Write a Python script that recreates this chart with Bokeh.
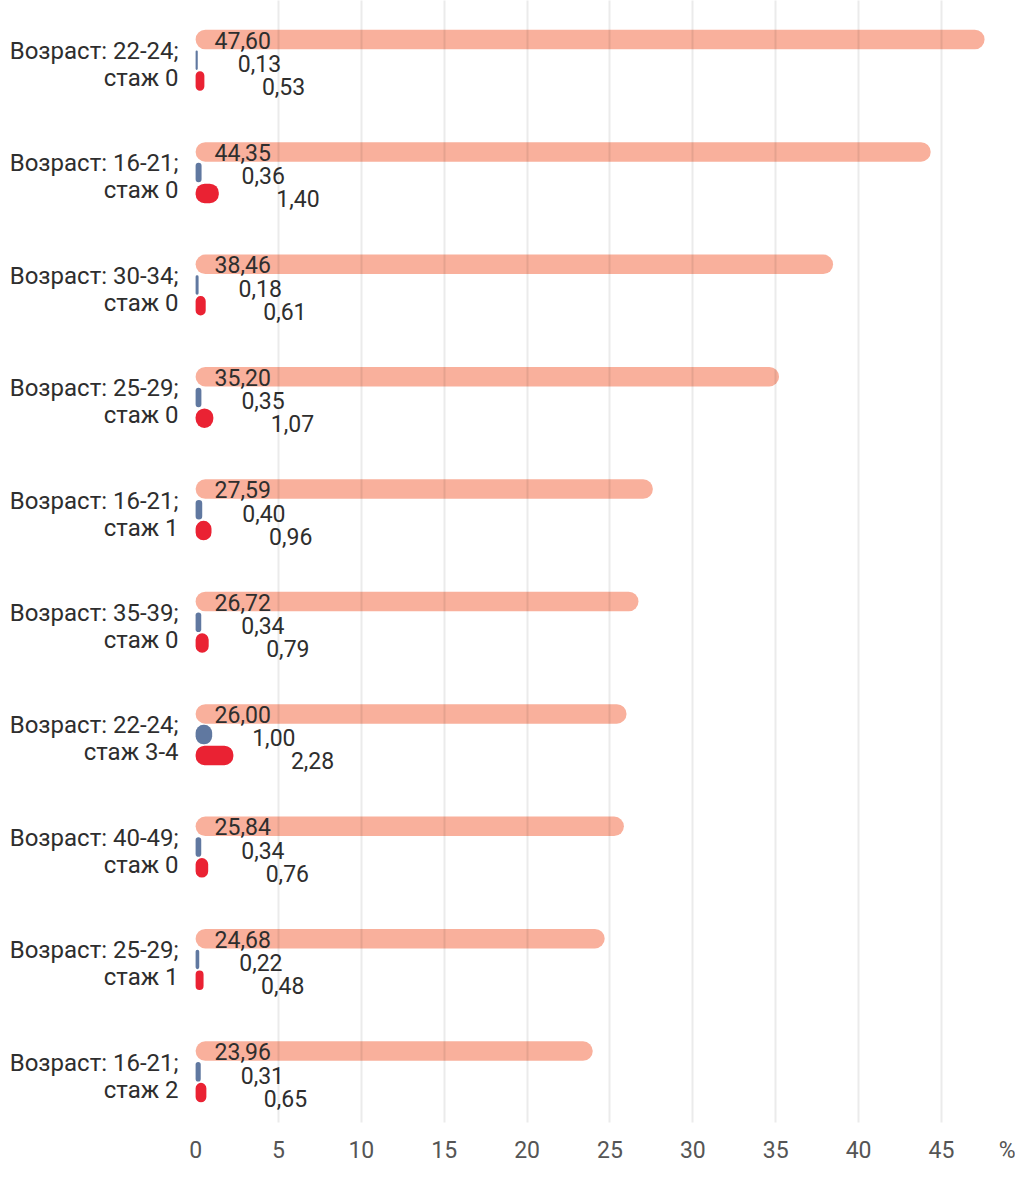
from bokeh.plotting import figure
from bokeh.models import ColumnDataSource, Range1d, FixedTicker
from bokeh.transform import dodge
from bokeh.core.properties import value
from bokeh.embed import file_html
from bokeh.resources import INLINE

# ---- data (top to bottom) ----
age_line = ["Возраст: 22-24;", "Возраст: 16-21;", "Возраст: 30-34;", "Возраст: 25-29;",
            "Возраст: 16-21;", "Возраст: 35-39;", "Возраст: 22-24;", "Возраст: 40-49;",
            "Возраст: 25-29;", "Возраст: 16-21;"]
exp_line = ["стаж 0", "стаж 0", "стаж 0", "стаж 0", "стаж 1", "стаж 0", "стаж 3-4",
            "стаж 0", "стаж 1", "стаж 2"]
series_orange = [47.60, 44.35, 38.46, 35.20, 27.59, 26.72, 26.00, 25.84, 24.68, 23.96]
series_blue = [0.13, 0.36, 0.18, 0.35, 0.40, 0.34, 1.00, 0.34, 0.22, 0.31]
series_red = [0.53, 1.40, 0.61, 1.07, 0.96, 0.79, 2.28, 0.76, 0.48, 0.65]
x_ticks = [0, 5, 10, 15, 20, 25, 30, 35, 40, 45]
grid_ticks = [5, 10, 15, 20, 25, 30, 35, 40, 45]
unit_label = "%"

def fmt(v):
    return f"{v:.2f}".replace(".", ",")

# ---- layout constants ----
W, H = 1015, 1166
BOTTOM = 44
GROUP_PX = 112.4          # pixels per category group
TOP_PX = 39.0             # frame top to first orange bar centre
FRAME_H = H - BOTTOM
X0_PX = 195.1             # canvas x of value 0
PX_PER_UNIT = 16.575

y_top = -TOP_PX / GROUP_PX
y_bot = y_top + FRAME_H / GROUP_PX
x_start = -X0_PX / PX_PER_UNIT
x_end = x_start + W / PX_PER_UNIT

def u(px):
    return px / GROUP_PX

src = ColumnDataSource(dict(
    g=list(range(len(series_orange))),
    age=age_line, exp=exp_line,
    orange=series_orange, blue=series_blue, red=series_red,
    lo=[fmt(v) for v in series_orange],
    lb=[fmt(v) for v in series_blue],
    lr=[fmt(v) for v in series_red],
    zero=[0] * len(series_orange),
))

p = figure(width=W, height=H, output_backend="svg", toolbar_location=None,
           x_range=Range1d(x_start, x_end), y_range=Range1d(y_bot, y_top),
           y_axis_location=None, min_border_left=0, min_border_right=0,
           min_border_top=0, min_border_bottom=BOTTOM)
p.outline_line_color = None
p.ygrid.visible = False
p.background_fill_color = "white"

BAR_H = u(19.5)
ORANGE = "#F9B09C"
BLUE = "#6078A0"
RED = "#EA2233"

p.hbar(y="g", left=0, right="orange", height=BAR_H, source=src,
       fill_color=ORANGE, line_color=None, border_radius=10)
p.hbar(y=dodge("g", u(20.7), range=p.y_range), left=0, right="blue", height=BAR_H,
       source=src, fill_color=BLUE, line_color=None, border_radius=8)
p.hbar(y=dodge("g", u(41.5), range=p.y_range), left=0, right="red", height=BAR_H,
       source=src, fill_color=RED, line_color=None, border_radius=9)

FONT = value("Roboto")
FS = "23px"
FS_CAT = "24px"
TXT = "#2e2e2e"

# value labels
p.text(x="zero", y=dodge("g", u(0.5), range=p.y_range), text="lo", source=src,
       x_offset=19, text_align="left", text_baseline="middle",
       text_font=FONT, text_font_size=FS, text_color=TXT)
p.text(x="blue", y=dodge("g", u(24.0), range=p.y_range), text="lb", source=src,
       x_offset=40, text_align="left", text_baseline="middle",
       text_font=FONT, text_font_size=FS, text_color=TXT)
p.text(x="red", y=dodge("g", u(47.0), range=p.y_range), text="lr", source=src,
       x_offset=57.5, text_align="left", text_baseline="middle",
       text_font=FONT, text_font_size=FS, text_color=TXT)

# category labels
p.text(x="zero", y=dodge("g", u(11.5), range=p.y_range), text="age", source=src,
       x_offset=-17, text_align="right", text_baseline="middle",
       text_font=FONT, text_font_size=FS_CAT, text_color=TXT)
p.text(x="zero", y=dodge("g", u(38.5), range=p.y_range), text="exp", source=src,
       x_offset=-17, text_align="right", text_baseline="middle",
       text_font=FONT, text_font_size=FS_CAT, text_color=TXT)

# x axis
unit_pos = 49.0
p.xaxis.ticker = FixedTicker(ticks=x_ticks + [unit_pos])
p.xaxis.major_label_overrides = {unit_pos: unit_label}
p.xaxis.axis_line_color = None
p.xaxis.major_tick_line_color = None
p.xaxis.minor_tick_line_color = None
p.xaxis.major_label_standoff = 8
p.xaxis.major_label_text_font = "Roboto"
p.xaxis.major_label_text_font_size = FS
p.xaxis.major_label_text_color = "#555555"

p.xgrid.ticker = FixedTicker(ticks=grid_ticks)
p.xgrid.grid_line_color = "#000000"
p.xgrid.grid_line_alpha = 0.08
p.xgrid.grid_line_width = 2
p.xgrid.level = "overlay"

open("out.html", "w").write(file_html(p, INLINE))
